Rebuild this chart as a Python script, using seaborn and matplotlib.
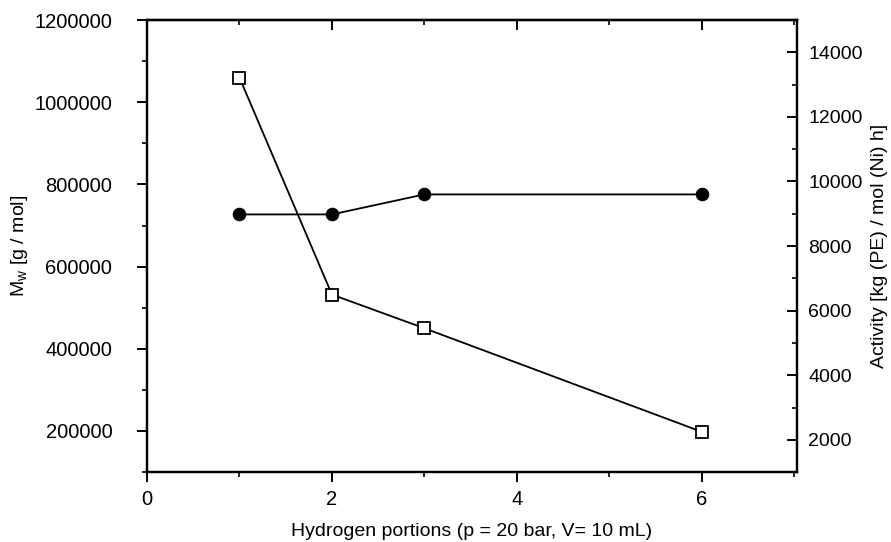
import matplotlib
matplotlib.use("Agg")
import matplotlib.pyplot as plt
import seaborn as sns
import pandas as pd
from matplotlib.ticker import MultipleLocator, ScalarFormatter

# values
portions = [1, 2, 3, 6]
mw = [1060000, 532000, 450000, 198000]      # squares, left axis
activity = [8980, 8980, 9600, 9600]          # circles, right axis

df = pd.DataFrame({"portions": portions, "mw": mw, "activity": activity})

sns.set_style("ticks")
plt.rcParams["font.family"] = ["Liberation Sans", "DejaVu Sans"]
plt.rcParams["font.size"] = 14
plt.rcParams["text.color"] = "black"
plt.rcParams["axes.labelcolor"] = "black"

fig = plt.figure(figsize=(8.91, 5.42), dpi=100)
ax = fig.add_axes([0.165, 0.129, 0.7295, 0.834])
ax2 = ax.twinx()

sns.lineplot(data=df, x="portions", y="mw", ax=ax, color="black", lw=1.3,
             marker="s", markersize=8, markerfacecolor="white",
             markeredgecolor="black", markeredgewidth=1.3)
sns.lineplot(data=df, x="portions", y="activity", ax=ax2, color="black", lw=1.3,
             marker="o", markersize=9, markerfacecolor="black",
             markeredgecolor="black")

ax.set_xlim(0, 7.03)
ax.set_ylim(100000, 1200000)
ax2.set_ylim(1000, 15000)

ax.xaxis.set_major_locator(MultipleLocator(2))
ax.xaxis.set_minor_locator(MultipleLocator(1))
ax.yaxis.set_major_locator(MultipleLocator(200000))
ax.yaxis.set_minor_locator(MultipleLocator(100000))
fmt = ScalarFormatter(useOffset=False)
fmt.set_scientific(False)
ax.yaxis.set_major_formatter(fmt)
ax2.set_yticks([2000, 4000, 6000, 8000, 10000, 12000, 14000])
ax2.yaxis.set_minor_locator(MultipleLocator(1000))

for a in (ax, ax2):
    for s in a.spines.values():
        s.set_linewidth(1.6)
        s.set_color("black")

ax.tick_params(which="major", direction="out", length=7, width=1.4, colors="black", labelsize=14.5)
ax.tick_params(axis="y", which="major", pad=18)
ax.tick_params(axis="x", which="major", pad=6)
ax.tick_params(which="minor", direction="out", length=3.5, width=1.2, colors="black")
ax2.tick_params(which="major", direction="in", length=7, width=1.4, colors="black", labelsize=14, pad=8)
ax2.tick_params(which="minor", direction="in", length=3.5, width=1.2, colors="black")

# top ticks point inwards
top = ax.secondary_xaxis("top")
top.xaxis.set_major_locator(MultipleLocator(2))
top.xaxis.set_minor_locator(MultipleLocator(1))
top.tick_params(which="major", direction="in", length=7, width=1.4, colors="black", labeltop=False)
top.tick_params(which="minor", direction="in", length=3.5, width=1.2, colors="black")
top.spines["top"].set_linewidth(1.6)
top.spines["top"].set_color("black")

ax.set_xlabel("Hydrogen portions (p = 20 bar, V= 10 mL)", fontsize=14, labelpad=10, color="black")
ax.set_ylabel(r"M$_\mathregular{w}$ [g / mol]", fontsize=14, labelpad=3, color="black")
ax2.set_ylabel("Activity [kg (PE) / mol (Ni) h]", fontsize=14, labelpad=6, color="black")

fig.savefig("out.png", dpi=100)
